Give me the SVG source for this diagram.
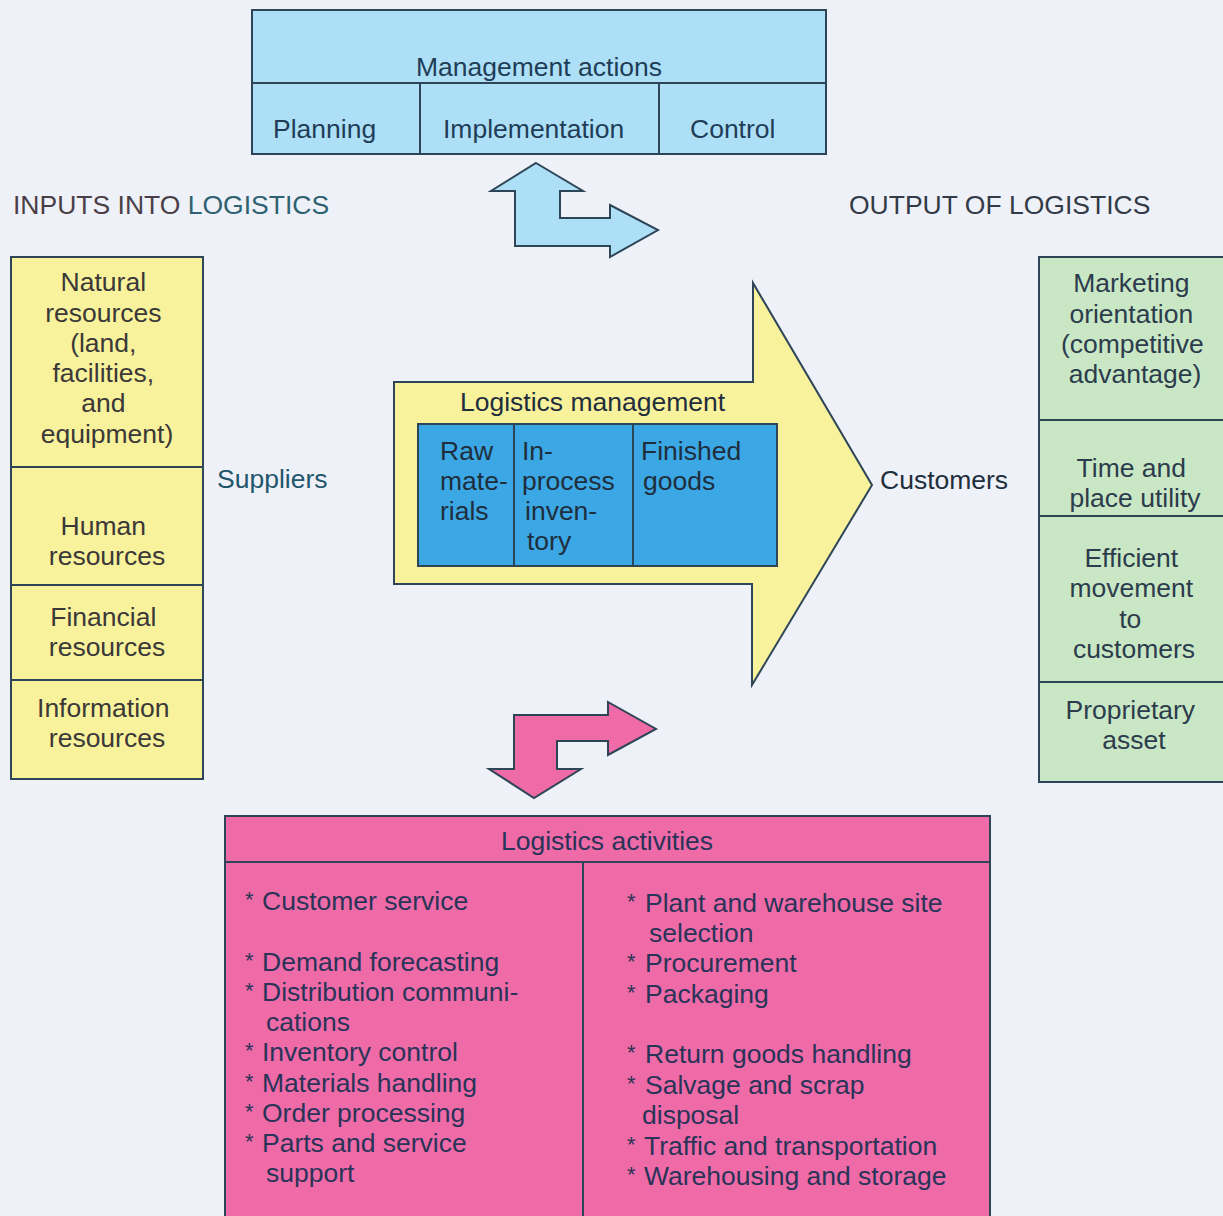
<svg xmlns="http://www.w3.org/2000/svg" width="1223" height="1216" viewBox="0 0 1223 1216">
  <style>
    text { font-family: "Liberation Sans", Arial, sans-serif; font-size: 26.5px; }
    .box { stroke: #2d4557; stroke-width: 2; }
    .line { stroke: #2d4557; stroke-width: 2; fill: none; }
    .blue { fill: #ade0f7; }
    .deep { fill: #3ba7e4; }
    .yellow { fill: #f9f29c; }
    .green { fill: #c9e7c5; }
    .pink { fill: #ef6ba7; }
    .t-blue { fill: #1f3d57; }
    .t-yel { fill: #3b3838; }
    .t-grn { fill: #2c3c4c; }
    .t-pnk { fill: #2a3358; }
    .t-dark { fill: #1f2e3c; }
    .t-side { fill: #1f566c; }
    .mid { text-anchor: middle; }
    .star { font-size: 22px; }
  </style>

  <!-- page background -->
  <rect x="0" y="0" width="1223" height="1216" fill="#eff1f9"/>

  <!-- Management actions -->
  <g id="management-actions">
    <rect class="box blue" x="252" y="10" width="574" height="144"/>
    <line class="line" x1="252" y1="83" x2="826" y2="83"/>
    <line class="line" x1="420" y1="83" x2="420" y2="154"/>
    <line class="line" x1="659" y1="83" x2="659" y2="154"/>
    <text class="t-blue mid" x="539" y="76">Management actions</text>
    <text class="t-blue" x="273" y="138">Planning</text>
    <text class="t-blue" x="443" y="138">Implementation</text>
    <text class="t-blue" x="690" y="138">Control</text>
  </g>

  <!-- Column headings -->
  <g id="inputs-heading">
    <text x="13" y="214"><tspan fill="#4a3f47">INPUTS INTO </tspan><tspan fill="#2e6270">LOGISTICS</tspan></text>
  </g>
  <g id="outputs-heading">
    <text fill="#333b47" x="849" y="214">OUTPUT OF LOGISTICS</text>
  </g>

  <!-- Inputs into logistics -->
  <g id="inputs">
    <rect class="box yellow" x="11" y="257" width="192" height="522"/>
    <line class="line" x1="11" y1="467" x2="203" y2="467"/>
    <line class="line" x1="11" y1="585" x2="203" y2="585"/>
    <line class="line" x1="11" y1="680" x2="203" y2="680"/>
    <text class="t-yel mid">
      <tspan x="107" y="291">Natural</tspan>
      <tspan x="107" y="322">resources</tspan>
      <tspan x="107" y="352">(land,</tspan>
      <tspan x="107" y="382">facilities,</tspan>
      <tspan x="107" y="412">and</tspan>
      <tspan x="107" y="443">equipment)</tspan>
    </text>
    <text class="t-yel mid">
      <tspan x="107" y="535">Human</tspan>
      <tspan x="107" y="565">resources</tspan>
    </text>
    <text class="t-yel mid">
      <tspan x="107" y="626">Financial</tspan>
      <tspan x="107" y="656">resources</tspan>
    </text>
    <text class="t-yel mid">
      <tspan x="107" y="717">Information</tspan>
      <tspan x="107" y="747">resources</tspan>
    </text>
  </g>

  <g id="suppliers">
    <text class="t-side" x="217" y="488">Suppliers</text>
  </g>

  <!-- Logistics management flow arrow -->
  <g id="logistics-management">
    <polygon class="box yellow" points="394,382 753,382 753,283 872,485 752,685 752,584 394,584"/>
    <text class="t-dark" x="460" y="411">Logistics management</text>
    <rect class="box deep" x="418" y="424" width="359" height="142"/>
    <line class="line" x1="514" y1="424" x2="514" y2="566"/>
    <line class="line" x1="633" y1="424" x2="633" y2="566"/>
    <text class="t-dark">
      <tspan x="440" y="460">Raw</tspan>
      <tspan x="440" y="490">mate-</tspan>
      <tspan x="440" y="520">rials</tspan>
    </text>
    <text class="t-dark">
      <tspan x="522" y="460">In-</tspan>
      <tspan x="522" y="490">process</tspan>
      <tspan x="525" y="520">inven-</tspan>
      <tspan x="527" y="550">tory</tspan>
    </text>
    <text class="t-dark">
      <tspan x="641" y="460">Finished</tspan>
      <tspan x="643" y="490">goods</tspan>
    </text>
  </g>

  <g id="customers">
    <text class="t-dark" x="880" y="489">Customers</text>
  </g>

  <!-- Output of logistics -->
  <g id="outputs">
    <rect class="box green" x="1039" y="257" width="200" height="525"/>
    <line class="line" x1="1039" y1="420" x2="1223" y2="420"/>
    <line class="line" x1="1039" y1="516" x2="1223" y2="516"/>
    <line class="line" x1="1039" y1="682" x2="1223" y2="682"/>
    <text class="t-grn mid">
      <tspan x="1135" y="292">Marketing</tspan>
      <tspan x="1135" y="323">orientation</tspan>
      <tspan x="1136" y="353">(competitive</tspan>
      <tspan x="1135" y="383">advantage)</tspan>
    </text>
    <text class="t-grn mid">
      <tspan x="1135" y="477">Time and</tspan>
      <tspan x="1135" y="507">place utility</tspan>
    </text>
    <text class="t-grn mid">
      <tspan x="1135" y="567">Efficient</tspan>
      <tspan x="1135" y="597">movement</tspan>
      <tspan x="1134" y="628">to</tspan>
      <tspan x="1134" y="658">customers</tspan>
    </text>
    <text class="t-grn mid">
      <tspan x="1134" y="719">Proprietary</tspan>
      <tspan x="1134" y="749">asset</tspan>
    </text>
  </g>

  <!-- Logistics activities -->
  <g id="logistics-activities">
    <rect class="box pink" x="225" y="816" width="765" height="420"/>
    <line class="line" x1="225" y1="862" x2="990" y2="862"/>
    <line class="line" x1="583" y1="862" x2="583" y2="1216"/>
    <text class="t-pnk mid" x="607" y="850">Logistics activities</text>
    <g class="t-pnk">
      <text class="star" x="245" y="907">*</text>
      <text x="262" y="910">Customer service</text>
      <text class="star" x="245" y="968">*</text>
      <text x="262" y="971">Demand forecasting</text>
      <text class="star" x="245" y="998">*</text>
      <text x="262" y="1001">Distribution communi-</text>
      <text x="266" y="1031">cations</text>
      <text class="star" x="245" y="1058">*</text>
      <text x="262" y="1061">Inventory control</text>
      <text class="star" x="245" y="1089">*</text>
      <text x="262" y="1092">Materials handling</text>
      <text class="star" x="245" y="1119">*</text>
      <text x="262" y="1122">Order processing</text>
      <text class="star" x="245" y="1149">*</text>
      <text x="262" y="1152">Parts and service</text>
      <text x="266" y="1182">support</text>

      <text class="star" x="627" y="909">*</text>
      <text x="645" y="912">Plant and warehouse site</text>
      <text x="649" y="942">selection</text>
      <text class="star" x="627" y="969">*</text>
      <text x="645" y="972">Procurement</text>
      <text class="star" x="627" y="1000">*</text>
      <text x="645" y="1003">Packaging</text>
      <text class="star" x="627" y="1060">*</text>
      <text x="645" y="1063">Return goods handling</text>
      <text class="star" x="627" y="1091">*</text>
      <text x="645" y="1094">Salvage and scrap</text>
      <text x="642" y="1124">disposal</text>
      <text class="star" x="627" y="1152">*</text>
      <text x="644" y="1155">Traffic and transportation</text>
      <text class="star" x="627" y="1182">*</text>
      <text x="644" y="1185">Warehousing and storage</text>
    </g>
  </g>

  <!-- Connectors: bent two-way arrows -->
  <g id="connectors">
    <polygon class="box blue" points="536,163 583,191 560,191 560,218 610,218 610,205 658,230 610,257 610,246 515,246 515,191 491,191"/>
    <polygon class="box pink" points="608,702 656,729 608,755 608,741 557,741 557,769 581,769 534,798 489,769 514,769 514,715 608,715"/>
  </g>
</svg>
